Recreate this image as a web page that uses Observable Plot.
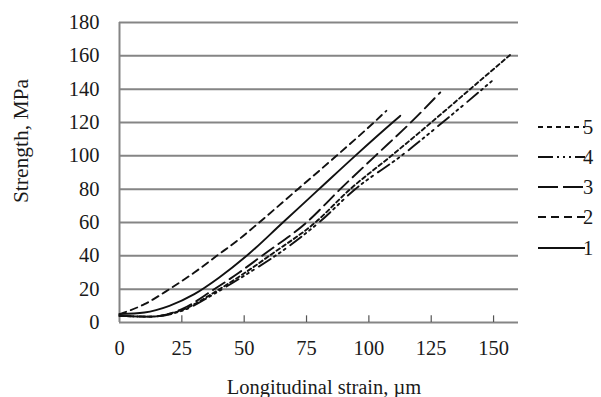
<!DOCTYPE html>
<html>
<head>
<meta charset="utf-8">
<script src="https://cdn.jsdelivr.net/npm/d3@7"></script>
<script src="https://cdn.jsdelivr.net/npm/@observablehq/plot@0.6"></script>
<style>
  html, body { margin: 0; padding: 0; background: #fff; }
  #chart { width: 601px; height: 397px; }
</style>
</head>
<body>
<div id="chart"></div>
<script>
// ---- data (x: longitudinal strain, µm; y: strength, MPa)
const xTicks = [0, 25, 50, 75, 100, 125, 150];
const yTicks = [0, 20, 40, 60, 80, 100, 120, 140, 160, 180];
const seriesNames = ["1", "2", "3", "4", "5"];
const xTitle = "Longitudinal strain, µm";
const yTitle = "Strength, MPa";

const curve1 = [[0,5],[10,6],[20,10],[30,17],[40,27],[51,40],[65.5,60],[80,80],[94.5,100],[109.5,120],[112.6,124]];
const curve2 = [[0,5],[10,11],[20,20],[30,30],[39,40],[48,50],[56,60],[71.5,80],[87,100],[102,120],[107,127]];
const curve3 = [[0,4],[12,3.5],[25,8],[37,19],[48,30],[58,41],[75,60],[88.5,80],[102.6,100],[116.8,120],[128.6,138]];
const curve4 = [[0,4],[12,3.5],[25,7],[40,19],[51,29],[62.5,40],[80,60],[94.5,80],[113,100],[129.5,120],[145.5,140],[151,147]];
const curve5 = [[0,4],[12,3.5],[25,7.5],[39,19],[50,29.5],[61,41],[78.5,60],[92.5,80],[109,100],[125,120],[140.6,140],[157,161]];

const curves = [curve1, curve2, curve3, curve4, curve5];
const dashes = [null, "7,5", "14,6", "14,4,2,4,2,4,2,6", "4,3"];

const font = "'Liberation Serif', 'Times New Roman', Times, serif";
const gridColor = "#858585";
const fs = 20.5;

const lineMarks = curves.map((c, i) =>
  Plot.line(c, {x: d => d[0], y: d => d[1], stroke: "#111", strokeWidth: 1.9,
    strokeDasharray: dashes[i], curve: "monotone-x"})
);

const plot = Plot.plot({
  width: 601,
  height: 397,
  marginLeft: 119,
  marginRight: 83,
  marginTop: 22,
  marginBottom: 75,
  style: {fontFamily: font, fontSize: fs + "px", color: "#1a1a1a", background: "#fff"},
  x: {domain: [0, 160]},
  y: {domain: [0, 180]},
  marks: [
    Plot.ruleY(yTicks, {stroke: gridColor, strokeWidth: 2}),
    Plot.ruleX([0], {stroke: gridColor, strokeWidth: 2}),
    Plot.ruleX(xTicks.slice(1), {y1: 0, y2: 4, stroke: "#555", strokeWidth: 1.2}),
    Plot.axisY(yTicks, {tickSize: 0, tickPadding: 20, fontSize: fs, label: null, fill: "#1a1a1a"}),
    Plot.axisX(xTicks, {tickSize: 0, tickPadding: 18, fontSize: fs, label: null, fill: "#1a1a1a"}),
    ...lineMarks
  ]
});

document.getElementById("chart").appendChild(plot);

const svg = d3.select(plot);
svg.selectAll("text").attr("font-size", fs).style("font-size", fs + "px");

// ---- axis titles
const tg = svg.append("g").attr("font-family", font).attr("fill", "#1a1a1a").attr("text-anchor", "middle");
tg.append("text").attr("x", 324).attr("y", 387).attr("dy", "0.35em")
  .style("font-size", fs + "px").text(xTitle);
tg.append("text").attr("transform", "translate(20,141) rotate(-90)").attr("dy", "0.35em")
  .style("font-size", "21.5px").text(yTitle);

// ---- legend (top to bottom: 5,4,3,2,1)
const legendOrder = [4, 3, 2, 1, 0];
const legendY = [127, 157, 187, 217, 248];
const legendDash = [null, "8,5", "20,5", "15,4,2,4,2,4,2,4", "5,4"];
const lg = svg.append("g").attr("font-family", font).attr("fill", "#1a1a1a");
legendOrder.forEach((si, k) => {
  lg.append("line")
    .attr("x1", 538).attr("x2", 585)
    .attr("y1", legendY[k]).attr("y2", legendY[k])
    .attr("stroke", "#111").attr("stroke-width", 1.9)
    .attr("stroke-dasharray", legendDash[si]);
  lg.append("text")
    .attr("x", 588).attr("y", legendY[k]).attr("dy", "0.35em")
    .style("font-size", fs + "px")
    .text(seriesNames[si]);
});
</script>
</body>
</html>
